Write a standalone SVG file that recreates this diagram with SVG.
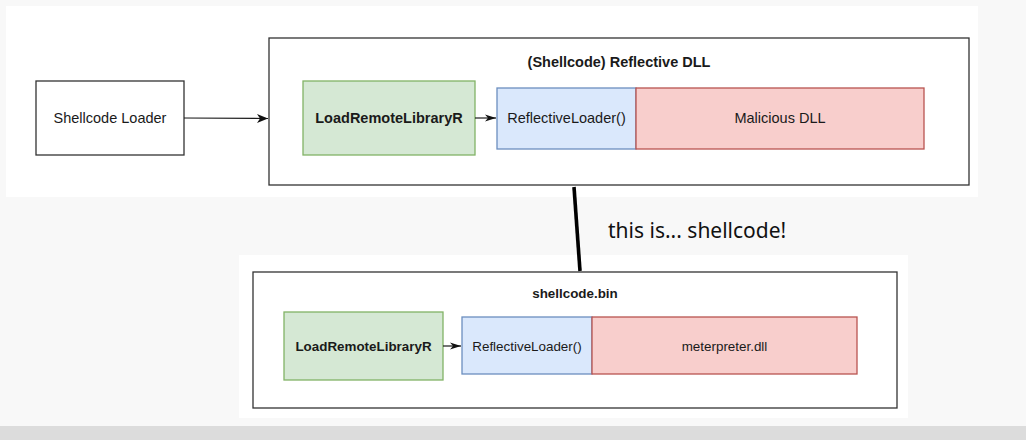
<svg xmlns="http://www.w3.org/2000/svg" width="1026" height="440" viewBox="0 0 1026 440">
<defs>
<style>
.panel{fill:#ffffff}
.box{fill:#ffffff;stroke:#333333;stroke-width:1.3}
.green{fill:#d5e8d4;stroke:#82b366;stroke-width:1.3}
.blue{fill:#dae8fc;stroke:#6c8ebf;stroke-width:1.3}
.red{fill:#f8cecc;stroke:#b85450;stroke-width:1.3}
.t{font-family:"Liberation Sans",Arial,sans-serif;fill:#1a1a1a;text-anchor:middle}
.b{font-weight:bold}
.edge{fill:none;stroke:#1a1a1a;stroke-width:1.2}
</style>
<marker id="arr" markerWidth="12" markerHeight="12" refX="11" refY="5" orient="auto" markerUnits="userSpaceOnUse">
<path d="M0,0.5 L11,5 L0,9.5 L3,5 Z" fill="#111111"/>
</marker>
<marker id="arrs" markerWidth="12" markerHeight="12" refX="11" refY="4" orient="auto" markerUnits="userSpaceOnUse">
<path d="M0,0.5 L11,4 L0,7.5 L3,4 Z" fill="#111111"/>
</marker>
</defs>
<rect x="0" y="0" width="1026" height="440" fill="#f8f8f8"/>
<rect x="0" y="426" width="1026" height="14" fill="#dcdcdc"/>
<rect class="panel" x="6" y="6" width="972" height="191"/>
<rect class="panel" x="239" y="255" width="669" height="163"/>

<g id="shellcode-loader">
<rect class="box" x="36" y="81" width="148" height="74"/>
<text class="t" x="110" y="123" font-size="14.5">Shellcode Loader</text>
</g>

<g id="reflective-dll">
<rect class="box" x="269" y="38" width="700" height="147"/>
<text class="t b" x="619" y="67" font-size="14.5">(Shellcode) Reflective DLL</text>
</g>
<g id="top-loadremote">
<rect class="green" x="303" y="81" width="172" height="74"/>
<text class="t b" x="389" y="123" font-size="14.5">LoadRemoteLibraryR</text>
</g>
<g id="top-reflectiveloader">
<rect class="blue" x="497" y="88" width="139" height="61"/>
<text class="t" x="566.5" y="123" font-size="14.5">ReflectiveLoader()</text>
</g>
<g id="top-malicious">
<rect class="red" x="636" y="88" width="288" height="61"/>
<text class="t" x="780" y="123" font-size="14.5">Malicious DLL</text>
</g>

<g id="shellcode-bin">
<rect class="box" x="253" y="272" width="644" height="136"/>
<text class="t b" x="575" y="298" font-size="13.4">shellcode.bin</text>
</g>
<g id="bot-loadremote">
<rect class="green" x="284" y="312" width="159" height="68"/>
<text class="t b" x="363.5" y="350.5" font-size="13.4">LoadRemoteLibraryR</text>
</g>
<g id="bot-reflectiveloader">
<rect class="blue" x="462" y="317" width="130" height="57"/>
<text class="t" x="527" y="350.5" font-size="13.4">ReflectiveLoader()</text>
</g>
<g id="bot-meterpreter">
<rect class="red" x="592" y="317" width="265" height="57"/>
<text class="t" x="724.5" y="350.5" font-size="13.4">meterpreter.dll</text>
</g>

<g id="connectors">
<path class="edge" d="M184,118 L268,118.5" marker-end="url(#arr)"/>
<path class="edge" d="M475,118 L496,118" marker-end="url(#arrs)"/>
<path class="edge" d="M443,346 L461,346" marker-end="url(#arrs)"/>
<path d="M574,187 L580,271" stroke="#000000" stroke-width="3.6" fill="none"/>
<text x="608" y="238" font-family="'Noto Sans','Open Sans',sans-serif" font-size="21" fill="#111111">this is... shellcode!</text>
</g>
</svg>
